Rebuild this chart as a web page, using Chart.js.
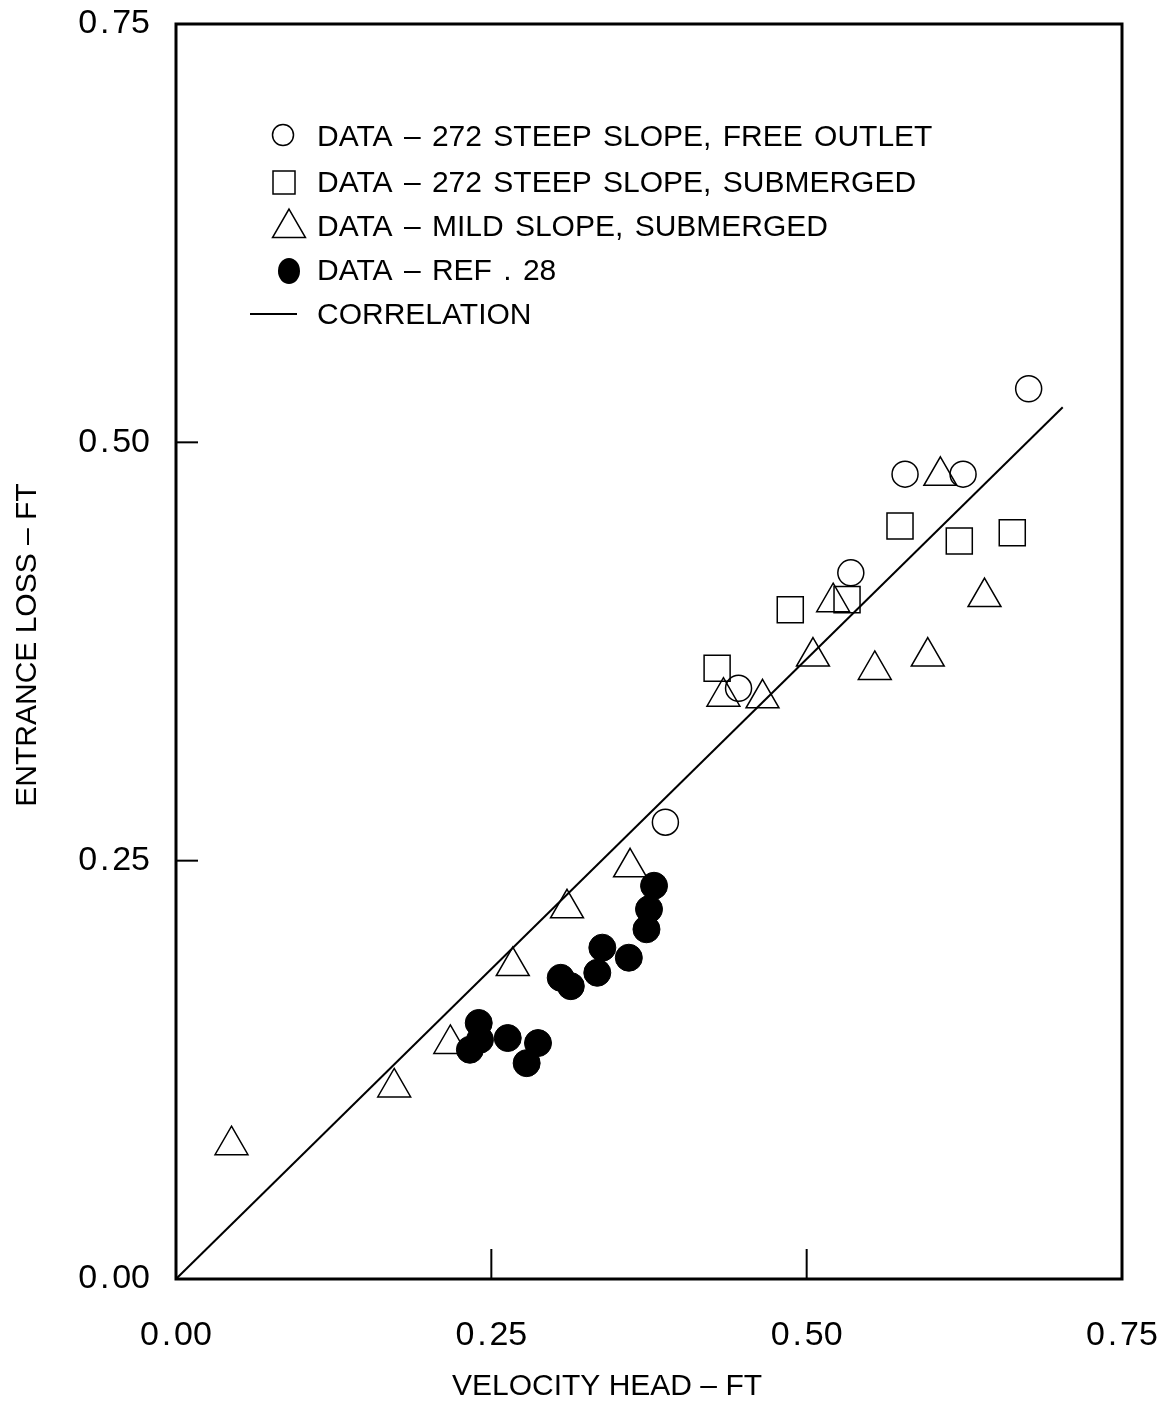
<!DOCTYPE html>
<html>
<head>
<meta charset="utf-8">
<script src="https://cdn.jsdelivr.net/npm/chart.js@4/dist/chart.umd.min.js"></script>
<style>
html,body{margin:0;padding:0;background:#fff;}
#wrap{width:1174px;height:1413px;position:relative;}
</style>
</head>
<body>
<div id="wrap"><canvas id="c"></canvas></div>
<script>
// ---- data ----
const freeOutletX = [0.388, 0.446, 0.535, 0.578, 0.624, 0.676];
const freeOutletY = [0.273, 0.353, 0.422, 0.481, 0.481, 0.532];

const steepSubX = [0.429, 0.487, 0.532, 0.574, 0.621, 0.663];
const steepSubY = [0.365, 0.400, 0.406, 0.450, 0.441, 0.446];

const mildSubX = [0.044, 0.173, 0.2175, 0.267, 0.310, 0.360, 0.434, 0.465, 0.505, 0.521, 0.554, 0.596, 0.606, 0.641];
const mildSubY = [0.080, 0.1145, 0.1405, 0.187, 0.2215, 0.246, 0.348, 0.347, 0.372, 0.4045, 0.364, 0.372, 0.480, 0.4075];

const ref28X = [0.233, 0.241, 0.240, 0.263, 0.278, 0.287, 0.305, 0.313, 0.334, 0.338, 0.359, 0.373, 0.375, 0.379];
const ref28Y = [0.137, 0.143, 0.153, 0.144, 0.129, 0.141, 0.180, 0.175, 0.183, 0.198, 0.192, 0.209, 0.221, 0.235];

const correlationX = [0, 0.703];
const correlationY = [0, 0.521];

const tickValues = [0, 0.25, 0.5, 0.75];
const innerTickValues = [0.25, 0.5];

const legendLabels = [
  "DATA \u2013 272 STEEP SLOPE, FREE OUTLET",
  "DATA \u2013 272 STEEP SLOPE, SUBMERGED",
  "DATA \u2013 MILD SLOPE, SUBMERGED",
  "DATA \u2013 REF . 28",
  "CORRELATION"
];
const xTitle = "VELOCITY HEAD \u2013 FT";
const yTitle = "ENTRANCE LOSS \u2013 FT";

// ---- helpers ----
const FONT = "'Liberation Sans', Arial, Helvetica, sans-serif";
const pts = (xs, ys) => xs.map((v, i) => ({x: v, y: ys[i]}));
const fmtTick = v => Number(v).toFixed(2).replace('.', '\u200A.\u200A');

const framePlugin = {
  id: 'frame',
  afterDatasetsDraw(chart) {
    const {ctx, chartArea: a, scales} = chart;
    const xs = scales.x, ys = scales.y;
    ctx.save();
    ctx.strokeStyle = '#000';
    ctx.fillStyle = '#000';
    // frame
    ctx.lineWidth = 3;
    ctx.strokeRect(a.left, a.top, a.right - a.left, a.bottom - a.top);
    // inner ticks
    ctx.lineWidth = 2;
    innerTickValues.forEach(v => {
      const px = xs.getPixelForValue(v);
      ctx.beginPath(); ctx.moveTo(px, a.bottom); ctx.lineTo(px, a.bottom - 30); ctx.stroke();
      const py = ys.getPixelForValue(v);
      ctx.beginPath(); ctx.moveTo(a.left, py); ctx.lineTo(a.left + 22, py); ctx.stroke();
    });

    // legend
    const rows = [137, 183, 227, 271, 315];
    const mx = 284;
    ctx.lineWidth = 1.5;
    ctx.beginPath(); ctx.arc(mx - 1, rows[0] - 2, 10.5, 0, Math.PI * 2); ctx.stroke();
    ctx.strokeRect(mx - 11, rows[1] - 12, 22, 23);
    {
      const r = 19, cx = mx + 5, cy = rows[2] + 1;
      ctx.beginPath();
      ctx.moveTo(cx, cy - r);
      ctx.lineTo(cx + r * Math.sin(2 * Math.PI / 3), cy + r / 2);
      ctx.lineTo(cx - r * Math.sin(2 * Math.PI / 3), cy + r / 2);
      ctx.closePath(); ctx.stroke();
    }
    ctx.beginPath(); ctx.ellipse(mx + 5, rows[3], 11, 13, 0, 0, Math.PI * 2); ctx.fill();
    ctx.lineWidth = 2;
    ctx.beginPath(); ctx.moveTo(250, rows[4] - 1); ctx.lineTo(297, rows[4] - 1); ctx.stroke();

    ctx.font = '30px ' + FONT;
    try { ctx.wordSpacing = '3px'; } catch (e) {}
    ctx.textBaseline = 'middle';
    ctx.textAlign = 'left';
    legendLabels.forEach((t, i) => ctx.fillText(t, 317, rows[i] + 1));
    try { ctx.wordSpacing = '0px'; } catch (e) {}

    // axis titles
    ctx.font = '30px ' + FONT;
    ctx.textAlign = 'center';
    ctx.fillText(xTitle, 607, 1387);
    ctx.save();
    ctx.translate(28, 645);
    ctx.rotate(-Math.PI / 2);
    ctx.fillText(yTitle, 0, 0);
    ctx.restore();

    ctx.restore();
  }
};

const tickFont = {family: FONT, size: 34};

new Chart(document.getElementById('c'), {
  type: 'scatter',
  data: {
    datasets: [
      {label: legendLabels[0], data: pts(freeOutletX, freeOutletY), pointStyle: 'circle', pointRadius: 13,
       borderColor: '#000', backgroundColor: 'rgba(0,0,0,0)', borderWidth: 1.5},
      {label: legendLabels[1], data: pts(steepSubX, steepSubY), pointStyle: 'rect', pointRadius: 18.4,
       borderColor: '#000', backgroundColor: 'rgba(0,0,0,0)', borderWidth: 1.5},
      {label: legendLabels[2], data: pts(mildSubX, mildSubY), pointStyle: 'triangle', pointRadius: 19,
       borderColor: '#000', backgroundColor: 'rgba(0,0,0,0)', borderWidth: 1.5},
      {label: legendLabels[3], data: pts(ref28X, ref28Y), pointStyle: 'circle', pointRadius: 13.5,
       borderColor: '#000', backgroundColor: '#000', borderWidth: 1},
      {label: legendLabels[4], data: pts(correlationX, correlationY), showLine: true, pointRadius: 0,
       borderColor: '#000', borderWidth: 2, fill: false}
    ]
  },
  options: {
    responsive: true,
    maintainAspectRatio: false,
    animation: false,
    events: [],
    layout: {padding: {left: 0, right: 52, top: 24, bottom: 0}},
    plugins: {legend: {display: false}, tooltip: {enabled: false}},
    scales: {
      x: {
        type: 'linear', min: 0, max: 0.75,
        afterBuildTicks: s => { s.ticks = tickValues.map(v => ({value: v})); },
        afterFit: s => { s.height = 134; s.paddingLeft = 0; s.paddingRight = 0; },
        grid: {display: false, drawTicks: false},
        border: {display: false},
        ticks: {font: tickFont, color: '#000', padding: 36, maxRotation: 0, autoSkip: false,
                callback: v => fmtTick(v)}
      },
      y: {
        type: 'linear', min: 0, max: 0.75,
        afterBuildTicks: s => { s.ticks = tickValues.map(v => ({value: v})); },
        afterFit: s => { s.width = 176; s.paddingTop = 0; s.paddingBottom = 0; },
        grid: {display: false, drawTicks: false},
        border: {display: false},
        ticks: {font: tickFont, color: '#000', padding: 26, autoSkip: false,
                callback: v => fmtTick(v)}
      }
    }
  },
  plugins: [framePlugin]
});
</script>
</body>
</html>
